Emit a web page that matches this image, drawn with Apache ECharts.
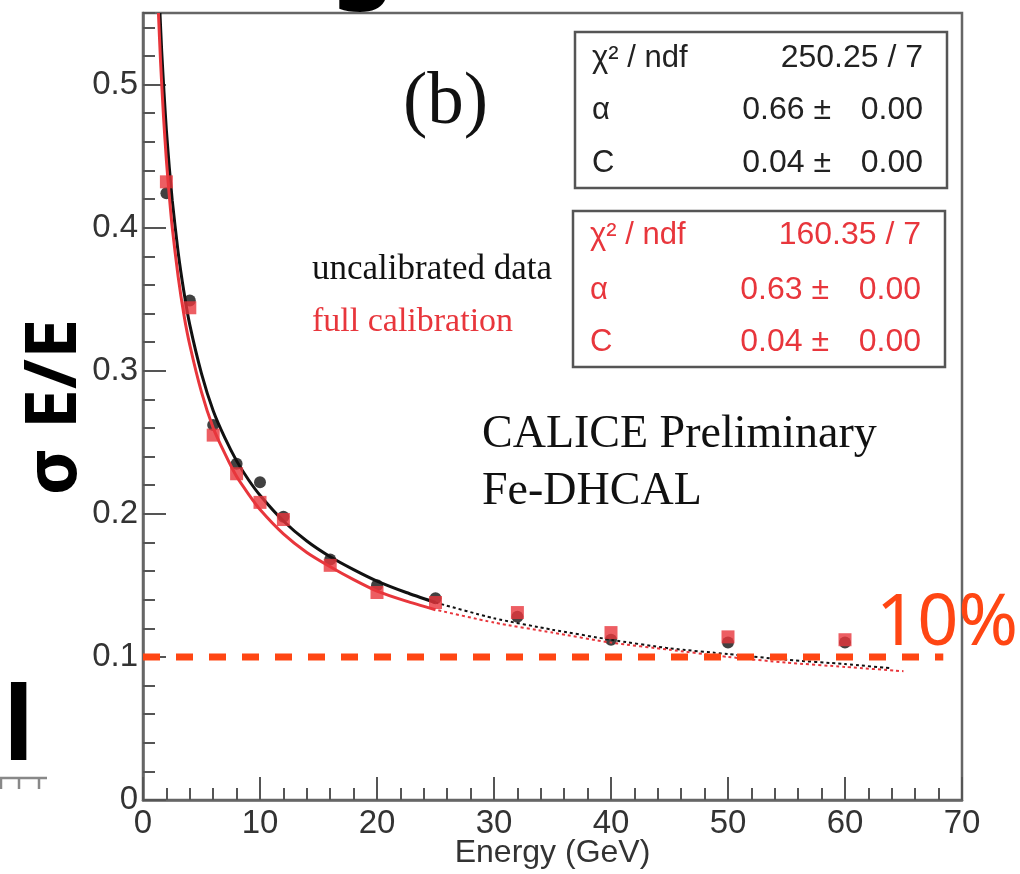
<!DOCTYPE html>
<html>
<head>
<meta charset="utf-8">
<title>Fe-DHCAL energy resolution</title>
<script src="https://cdn.jsdelivr.net/npm/echarts@6/dist/echarts.min.js"></script>
<style>
  html, body { margin: 0; padding: 0; background: #ffffff; overflow: hidden; }
  #chart { width: 1020px; height: 874px; }
</style>
</head>
<body>
<div id="chart"></div>
<script>
// Beam energies (GeV) and measured relative resolution sigma_E / E
const energy = [2, 4, 6, 8, 10, 12, 16, 20, 25, 32, 40, 50, 60];
const uncalibrated = [0.424, 0.349, 0.262, 0.235, 0.222, 0.198, 0.168, 0.150, 0.141, 0.128, 0.112, 0.110, 0.110];
const fullCalibration = [0.432, 0.344, 0.255, 0.228, 0.208, 0.196, 0.164, 0.145, 0.138, 0.131, 0.117, 0.114, 0.112];

// Fitted resolution curves: solid inside the fit range, dotted beyond it
const uncalFitE = [1.45, 1.6, 1.8, 2, 2.25, 2.5, 3, 3.5, 4, 5, 6, 7, 8, 9, 10, 12, 14, 16, 18, 20, 22.5, 25];
const uncalFit = [0.550, 0.523, 0.494, 0.468, 0.442, 0.419, 0.383, 0.355, 0.332, 0.298, 0.272, 0.253, 0.237, 0.224, 0.213, 0.195, 0.181, 0.170, 0.161, 0.153, 0.145, 0.138];
const uncalExtE = [25, 30, 35, 40, 45, 50, 55, 60, 64];
const uncalExt = [0.138, 0.127, 0.119, 0.112, 0.106, 0.102, 0.098, 0.095, 0.092];

const calibFitE = [1.32, 1.5, 1.75, 2, 2.25, 2.5, 3, 3.5, 4, 5, 6, 7, 8, 9, 10, 12, 14, 16, 18, 20, 22.5, 25];
const calibFit = [0.550, 0.516, 0.478, 0.447, 0.422, 0.400, 0.366, 0.339, 0.318, 0.285, 0.260, 0.242, 0.226, 0.214, 0.203, 0.186, 0.173, 0.163, 0.154, 0.146, 0.139, 0.133];
const calibExtE = [25, 30, 35, 40, 45, 50, 55, 60, 65];
const calibExt = [0.133, 0.124, 0.117, 0.110, 0.105, 0.100, 0.096, 0.093, 0.090];

// 10 % target line
const targetE = [0, 68.4];
const targetLevel = 0.1;

// Fit statistics boxes
const uncalStats = [['χ² / ndf', '250.25 / 7', ''], ['α', '0.66 ±', '0.00'], ['C', '0.04 ±', '0.00']];
const calibStats = [['χ² / ndf', '160.35 / 7', ''], ['α', '0.63 ±', '0.00'], ['C', '0.04 ±', '0.00']];

const BLACK = '#111111';
const RED = '#e8363c';
const ORANGE = '#ff4613';
const AXIS = '#666666';
const SANS = '"Liberation Sans", Arial, Helvetica, sans-serif';
const SERIF = '"Liberation Serif", "Times New Roman", serif';

const pairs = (xs, ys) => xs.map((x, i) => [x, ys[i]]);

function statsBox(rows, top, left, right, color, rowYs) {
  const els = [{
    type: 'rect',
    shape: { x: left, y: top.y0, width: right - left, height: top.y1 - top.y0 },
    style: { fill: 'none', stroke: '#555', lineWidth: 2.5 },
    z: 50
  }];
  rows.forEach((r, i) => {
    const y = rowYs[i];
    els.push({ type: 'text', x: left + 17, y: y, z: 51,
      style: { text: r[0], fill: color, fontFamily: SANS, fontSize: 31, align: 'left', verticalAlign: 'middle' } });
    if (r[2] === '') {
      els.push({ type: 'text', x: right - 24, y: y, z: 51,
        style: { text: r[1], fill: color, fontFamily: SANS, fontSize: 32, align: 'right', verticalAlign: 'middle' } });
    } else {
      els.push({ type: 'text', x: right - 116, y: y, z: 51,
        style: { text: r[1], fill: color, fontFamily: SANS, fontSize: 32, align: 'right', verticalAlign: 'middle' } });
      els.push({ type: 'text', x: right - 24, y: y, z: 51,
        style: { text: r[2], fill: color, fontFamily: SANS, fontSize: 32, align: 'right', verticalAlign: 'middle' } });
    }
  });
  return els;
}

const chart = echarts.init(document.getElementById('chart'), null, { renderer: 'canvas' });

const graphics = [].concat(
  statsBox(uncalStats, { y0: 32, y1: 188 }, 575, 947, '#222222', [58, 110, 163]),
  statsBox(calibStats, { y0: 211, y1: 367 }, 573, 945, RED, [235, 290, 342]),
  [
    { type: 'text', x: 403, y: 104, z: 51,
      style: { text: '(b)', fill: '#111', fontFamily: SERIF, fontSize: 73, align: 'left', verticalAlign: 'middle' } },
    { type: 'text', x: 312, y: 270, z: 51,
      style: { text: 'uncalibrated data', fill: '#111', fontFamily: SERIF, fontSize: 35, align: 'left', verticalAlign: 'middle' } },
    { type: 'text', x: 312, y: 322, z: 51,
      style: { text: 'full calibration', fill: RED, fontFamily: SERIF, fontSize: 34, align: 'left', verticalAlign: 'middle' } },
    { type: 'text', x: 482, y: 435, z: 51,
      style: { text: 'CALICE Preliminary', fill: '#111', fontFamily: SERIF, fontSize: 46, align: 'left', verticalAlign: 'middle' } },
    { type: 'text', x: 482, y: 492, z: 51,
      style: { text: 'Fe-DHCAL', fill: '#111', fontFamily: SERIF, fontSize: 46, align: 'left', verticalAlign: 'middle' } },
    { type: 'text', x: 876, y: 624, z: 60,
      style: { text: '10%', fill: ORANGE, fontFamily: '"Noto Sans", sans-serif', fontSize: 72, align: 'left', verticalAlign: 'middle' } },
    { type: 'text', x: 55, y: 407, rotation: Math.PI / 2, z: 60,
      style: { text: 'σ E/E', fill: '#000', fontFamily: '"Noto Sans", sans-serif', fontWeight: 'bold', fontSize: 72, align: 'center', verticalAlign: 'middle' } },
    // slide fragments around the figure
    { type: 'text', x: 34, y: 731, z: 60,
      style: { text: 'al', fill: '#000', fontFamily: '"Noto Sans", sans-serif', fontWeight: 'bold', fontSize: 102, align: 'right', verticalAlign: 'middle' } },
    { type: 'text', x: 363, y: -40, z: 60,
      style: { text: 'g', fill: '#000', fontFamily: '"Noto Sans", sans-serif', fontWeight: 'bold', fontSize: 100, align: 'center', verticalAlign: 'middle' } },
    { type: 'polyline', z: 60, shape: { points: [[0, 778], [47, 778]] }, style: { stroke: '#888', lineWidth: 2.5 } },
    { type: 'line', z: 60, shape: { x1: 1, y1: 778, x2: 1, y2: 789 }, style: { stroke: '#888', lineWidth: 2.5 } },
    { type: 'line', z: 60, shape: { x1: 19, y1: 778, x2: 19, y2: 789 }, style: { stroke: '#888', lineWidth: 2.5 } },
    { type: 'line', z: 60, shape: { x1: 39, y1: 778, x2: 39, y2: 789 }, style: { stroke: '#888', lineWidth: 2.5 } }
  ]
);

const option = {
  animation: false,
  backgroundColor: '#ffffff',
  grid: {
    left: 143, right: 58, top: 13, bottom: 74,
    containLabel: false, outerBoundsMode: 'none',
    show: true, borderColor: AXIS, borderWidth: 2.5, backgroundColor: 'transparent'
  },
  xAxis: {
    type: 'value', min: 0, max: 70, interval: 10,
    name: 'Energy (GeV)', nameLocation: 'middle', nameGap: 37, nameMoveOverlap: false,
    nameTextStyle: { fontFamily: SANS, fontSize: 32, color: '#333' },
    axisLine: { show: true, lineStyle: { color: AXIS, width: 2.5 } },
    axisTick: { show: true, inside: true, length: 23, lineStyle: { color: '#555', width: 2 } },
    minorTick: { show: true, splitNumber: 5, length: 12, lineStyle: { color: '#555', width: 2 } },
    axisLabel: { fontFamily: SANS, fontSize: 33, color: '#333', margin: 7 },
    splitLine: { show: false }
  },
  yAxis: [
    {
      type: 'value', min: 0, max: 0.55, interval: 0.1,
      axisLine: { show: true, lineStyle: { color: AXIS, width: 2.5 } },
      axisTick: { show: true, inside: true, length: 23, lineStyle: { color: '#555', width: 2 } },
      axisLabel: { fontFamily: SANS, fontSize: 33, color: '#333', margin: 5, showMaxLabel: false,
        formatter: v => (v === 0 ? '0' : v.toFixed(1)) },
      splitLine: { show: false }
    },
    {
      type: 'value', min: 0, max: 0.55, interval: 0.02, position: 'left',
      axisLine: { show: false },
      axisTick: { show: true, inside: true, length: 12, lineStyle: { color: '#555', width: 2 } },
      axisLabel: { show: false },
      splitLine: { show: false }
    }
  ],
  series: [
    { type: 'scatter', name: 'uncalibrated data', data: pairs(energy, uncalibrated),
      symbol: 'circle', symbolSize: 12, itemStyle: { color: BLACK }, z: 3 },
    { type: 'line', data: pairs(uncalFitE, uncalFit), showSymbol: false, smooth: 0.2,
      lineStyle: { color: BLACK, width: 3 }, z: 4 },
    { type: 'line', data: pairs(uncalExtE, uncalExt), showSymbol: false, smooth: 0.2,
      lineStyle: { color: BLACK, width: 2, type: [3, 3] }, z: 4 },
    { type: 'scatter', name: 'full calibration', data: pairs(energy, fullCalibration),
      symbol: 'rect', symbolSize: 13, itemStyle: { color: RED }, z: 5 },
    { type: 'line', data: pairs(calibFitE, calibFit), showSymbol: false, smooth: 0.2,
      lineStyle: { color: RED, width: 3 }, z: 6 },
    { type: 'line', data: pairs(calibExtE, calibExt), showSymbol: false, smooth: 0.2,
      lineStyle: { color: RED, width: 2, type: [3, 3], dashOffset: 3 }, z: 6 },
    { type: 'line', data: targetE.map(e => [e, targetLevel]), showSymbol: false,
      lineStyle: { color: ORANGE, width: 7, type: [17, 16] }, z: 10 }
  ],
  graphic: { elements: graphics }
};

chart.setOption(option);
</script>
</body>
</html>
